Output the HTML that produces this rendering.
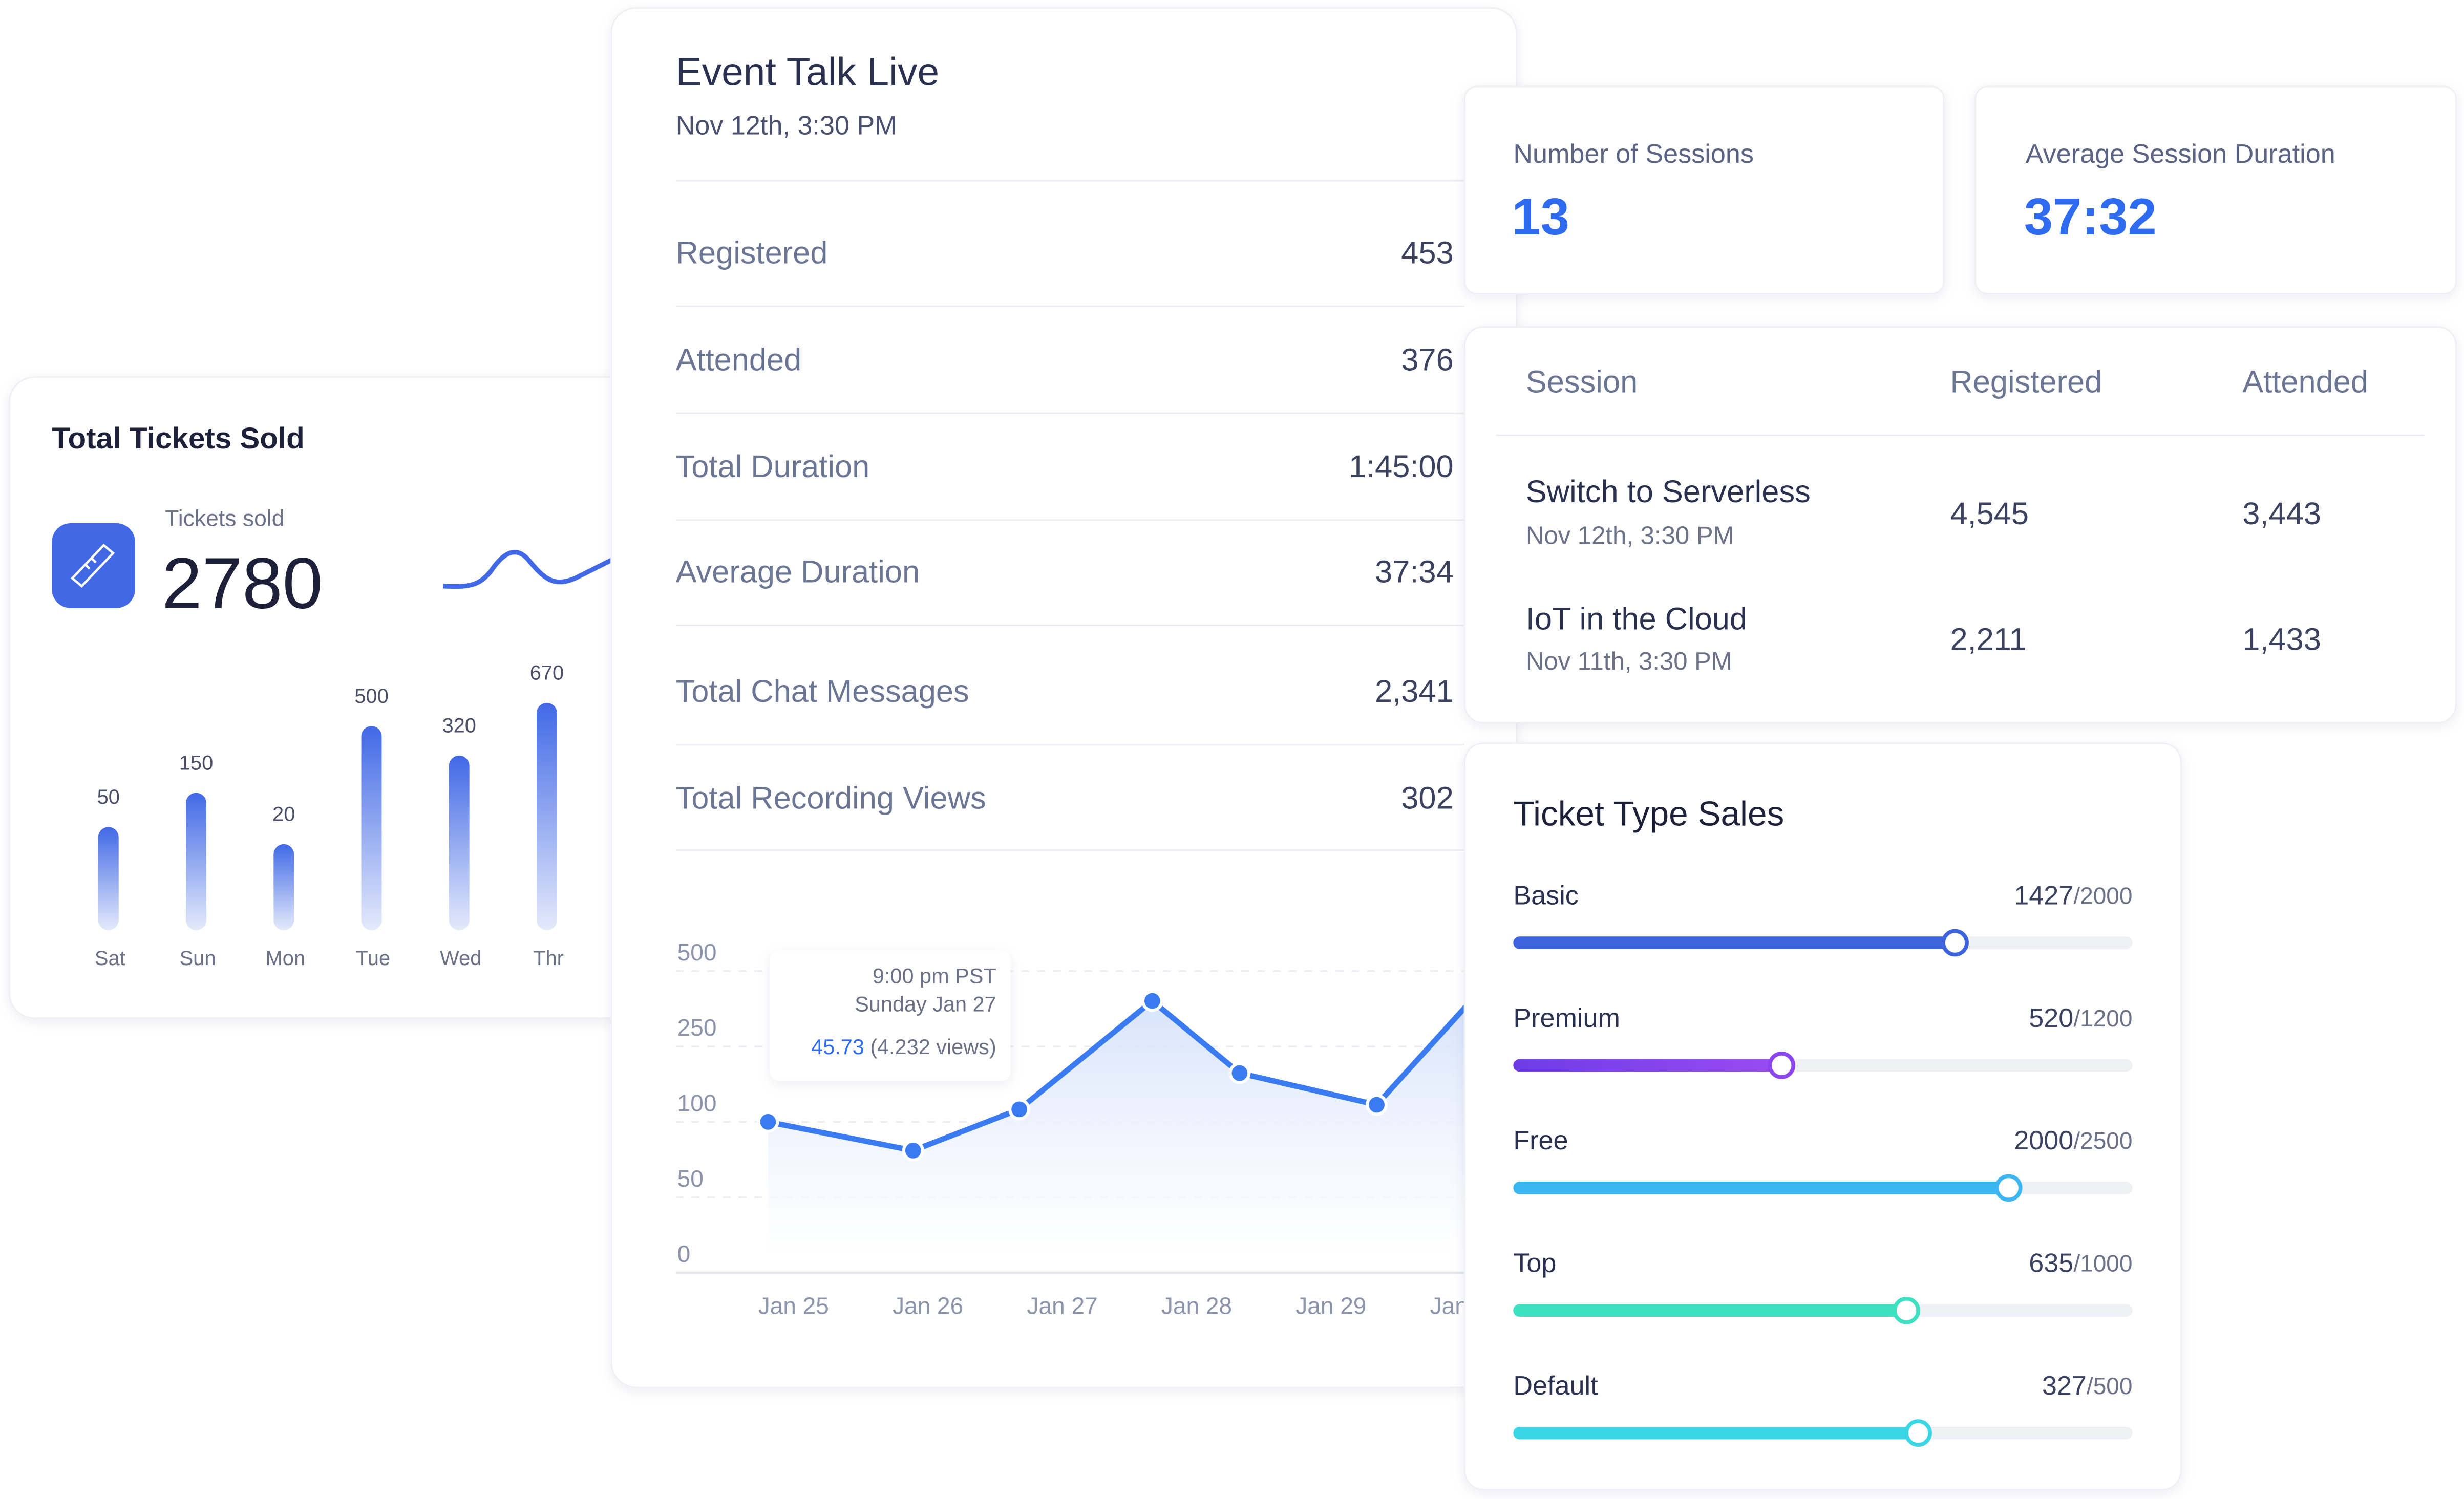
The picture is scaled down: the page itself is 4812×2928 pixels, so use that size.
<!DOCTYPE html>
<html><head><meta charset="utf-8">
<style>
html,body{margin:0;padding:0;background:#fff;width:4812px;height:2928px;overflow:hidden}
svg{display:block}
text{font-family:"Liberation Sans",sans-serif}
</style></head>
<body>
<svg id="root" width="4812" height="2928" viewBox="0 0 1568 954" preserveAspectRatio="none" xmlns="http://www.w3.org/2000/svg">
<defs>
<filter id="sh" x="-10%" y="-10%" width="120%" height="120%"><feDropShadow dx="0" dy="2" stdDeviation="4" flood-color="#1e2a55" flood-opacity="0.07"/></filter>
<linearGradient id="barg" x1="0" y1="0" x2="0" y2="1"><stop offset="0" stop-color="#4169e6"/><stop offset="1" stop-color="#e4eafb"/></linearGradient>
<linearGradient id="areag" x1="0" y1="0" x2="0" y2="1"><stop offset="0" stop-color="#d6e3fb"/><stop offset="1" stop-color="#ffffff" stop-opacity="0.6"/></linearGradient>
<linearGradient id="purg" x1="0" x2="1"><stop offset="0" stop-color="#6d3ce6"/><stop offset="1" stop-color="#9a4cf0"/></linearGradient>
<clipPath id="lineclip"><rect x="389" y="560" width="543" height="300"/></clipPath>
</defs>

<!-- Left card -->
<g>
<rect x="6" y="240" width="470" height="408" rx="16" fill="#fff" stroke="#eef0f4" filter="url(#sh)"/>
<text x="33" y="279" font-size="19" font-weight="bold" fill="#1c2038" dominant-baseline="central">Total Tickets Sold</text>
<rect x="33" y="333" width="53" height="54" rx="12" fill="#4169e6"/>
<g stroke="#fff" stroke-width="1.5" fill="none"><path d="M46 368 L66 347 L72 352 L52 373 Z"/><path d="M54 359 l3 3 M58 355 l3 3"/></g>
<text x="105" y="330" font-size="14.5" fill="#6b7186" dominant-baseline="central">Tickets sold</text>
<text x="103" y="371" font-size="46" fill="#1c2038" dominant-baseline="central">2780</text>
<path d="M282 373 C300 374 305 372 312 364 C320 352 328 347 336 356 C346 368 352 374 366 368 C374 364 382 360 390 356" stroke="#4169e6" stroke-width="3" fill="none"/>
<g id="bars"></g>
</g>

<!-- Middle card -->
<g>
<rect x="389" y="5" width="576" height="878" rx="16" fill="#fff" stroke="#eef0f4" filter="url(#sh)"/>
<text x="430" y="46" font-size="25" fill="#2a3150" dominant-baseline="central">Event Talk Live</text>
<text x="430" y="80" font-size="17" fill="#4a5170" dominant-baseline="central">Nov 12th, 3:30 PM</text>
<g id="stats"></g>
<g id="linechart" clip-path="url(#lineclip)"></g>
</g>

<!-- Session stat cards -->
<g>
<rect x="932" y="55" width="305" height="132" rx="8" fill="#fff" stroke="#eef0f4" filter="url(#sh)"/>
<text x="963" y="98" font-size="17" fill="#5a6384" dominant-baseline="central">Number of Sessions</text>
<text x="962" y="138" font-size="33" font-weight="bold" fill="#2f6bf0" dominant-baseline="central">13</text>
</g>
<g>
<rect x="1257" y="55" width="306" height="132" rx="8" fill="#fff" stroke="#eef0f4" filter="url(#sh)"/>
<text x="1289" y="98" font-size="17" fill="#5a6384" dominant-baseline="central">Average Session Duration</text>
<text x="1288" y="138" font-size="33" font-weight="bold" fill="#2f6bf0" dominant-baseline="central">37:32</text>
</g>

<!-- Sessions table -->
<g>
<rect x="932" y="208" width="631" height="252" rx="12" fill="#fff" stroke="#eef0f4" filter="url(#sh)"/>
<text x="971" y="243" font-size="20" fill="#6b7594" dominant-baseline="central">Session</text>
<text x="1241" y="243" font-size="20" fill="#6b7594" dominant-baseline="central">Registered</text>
<text x="1427" y="243" font-size="20" fill="#6b7594" dominant-baseline="central">Attended</text>
<line x1="952" y1="277" x2="1543" y2="277" stroke="#eceef3"/>
<g>
<text x="971" y="313" font-size="20" fill="#2a3150" dominant-baseline="central">Switch to Serverless</text>
<text x="971" y="341" font-size="16" fill="#6b7186" dominant-baseline="central">Nov 12th, 3:30 PM</text>
<text x="1241" y="327" font-size="20" fill="#3a4260" dominant-baseline="central">4,545</text>
<text x="1427" y="327" font-size="20" fill="#3a4260" dominant-baseline="central">3,443</text>
</g>
<g>
<text x="971" y="394" font-size="20" fill="#2a3150" dominant-baseline="central">IoT in the Cloud</text>
<text x="971" y="421" font-size="16" fill="#6b7186" dominant-baseline="central">Nov 11th, 3:30 PM</text>
<text x="1241" y="407" font-size="20" fill="#3a4260" dominant-baseline="central">2,211</text>
<text x="1427" y="407" font-size="20" fill="#3a4260" dominant-baseline="central">1,433</text>
</g>
</g>

<!-- Ticket type sales -->
<g>
<rect x="932" y="473" width="456" height="475" rx="12" fill="#fff" stroke="#eef0f4" filter="url(#sh)"/>
<text x="963" y="518" font-size="22" fill="#1c2038" dominant-baseline="central">Ticket Type Sales</text>
<g id="sliders"></g>
</g>
</svg>

<script>
const NS = "http://www.w3.org/2000/svg";
// ---- bar chart data ----
const barDays = ["Sat","Sun","Mon","Tue","Wed","Thr"];
const barValues = [50,150,20,500,320,670];
// ---- event stats ----
const statLabels = ["Registered","Attended","Total Duration","Average Duration","Total Chat Messages","Total Recording Views"];
const statValues = ["453","376","1:45:00","37:34","2,341","302"];
// ---- line chart data ----
const lineDates = [24.81,25.89,26.68,27.67,28.32,29.34,30.06];
const lineViews = [100,81,125,401,197,134,410];
const xTickLabels = ["Jan 25","Jan 26","Jan 27","Jan 28","Jan 29","Jan 30"];
const yTickValues = [0,50,100,250,500];
// ---- ticket sliders ----
const ticketNames = ["Basic","Premium","Free","Top","Default"];
const ticketSold = [1427,520,2000,635,327];
const ticketMax = [2000,1200,2500,1000,500];

function mk(tag, attrs, parent, txt){
  const e = document.createElementNS(NS, tag);
  for (const k in attrs) e.setAttribute(k, attrs[k]);
  if (txt !== undefined) e.textContent = txt;
  parent.appendChild(e);
  return e;
}

// bars
const barsG = document.getElementById('bars');
const barBase = 592;
function barX(i){ return 69 + i*55.8; }
function barH(v){ return 36 + 4.2*Math.sqrt(v); }
barValues.forEach((v,i)=>{
  const x = barX(i), h = barH(v);
  const r = mk('rect',{x:x-6.5,y:barBase-h,width:13,height:h,rx:6.5,fill:'url(#barg)'},barsG);
  
  
  const t = mk('text',{x:x,y:barBase-h-19,'font-size':13,fill:'#4a5068','text-anchor':'middle','dominant-baseline':'central'},barsG,String(v));
  
  
  const d = mk('text',{x:x+1,y:610,'font-size':13,fill:'#6b7186','text-anchor':'middle','dominant-baseline':'central'},barsG,barDays[i]);
  
  
});

// stats
const statsG = document.getElementById('stats');
const sepY = [115,195,263,331,398,474,541];
const rowY = [161,229,297,364,440,508];
sepY.forEach(y=>{
  const l = mk('line',{x1:430,y1:y,x2:932,y2:y,stroke:'#eceef3'},statsG);
  
  
});
statLabels.forEach((s,i)=>{
  const a = mk('text',{x:430,y:rowY[i],'font-size':20,fill:'#6b7594','dominant-baseline':'central'},statsG,s);
  
  
  const b = mk('text',{x:925,y:rowY[i],'font-size':20,fill:'#3a4260','text-anchor':'end','dominant-baseline':'central'},statsG,statValues[i]);
  
  
});

// line chart
const lc = document.getElementById('linechart');
const tickY = [810,762,714,666,618];
function xScale(d){ return 505 + (d-25)*85.5; }
function yScale(v){
  for (let i=0;i<yTickValues.length-1;i++){
    const a=yTickValues[i], b=yTickValues[i+1];
    if (v<=b || i===yTickValues.length-2){
      return tickY[i] + (v-a)/(b-a)*(tickY[i+1]-tickY[i]);
    }
  }
}
yTickValues.forEach((v,i)=>{
  const y = yScale(v);
  if (i>0){
    const g = mk('line',{x1:430,y1:y,x2:932,y2:y,stroke:'#e9ecf2','stroke-dasharray':'5 5'},lc);
    
    
  }
  const t = mk('text',{x:431,y:y-12,'font-size':15,fill:'#8c94ab','dominant-baseline':'central'},lc,String(v));
  
  
});
const base = mk('line',{x1:430,y1:810,x2:932,y2:810,stroke:'#e6e8ee','stroke-width':1.5},lc);


xTickLabels.forEach((s,i)=>{
  const t = mk('text',{x:xScale(25+i),y:831,'font-size':15,fill:'#8c94ab','text-anchor':'middle','dominant-baseline':'central'},lc,s);
  
  
});
const pts = lineDates.map((d,i)=>[xScale(d), yScale(lineViews[i])]);
let areaD = 'M'+pts[0][0]+' 800 ' + pts.map(p=>'L'+p[0]+' '+p[1]).join(' ') + ' L'+pts[pts.length-1][0]+' 800 Z';
const area = mk('path',{d:areaD,fill:'url(#areag)'},lc);


// tooltip
const tipG = mk('g',{},lc);


mk('rect',{x:490,y:605,width:153,height:83,rx:6,fill:'#fff',filter:'url(#sh)'},tipG);
mk('text',{x:634,y:621,'font-size':13.5,fill:'#6b7186','text-anchor':'end','dominant-baseline':'central'},tipG,'9:00 pm PST');
mk('text',{x:634,y:639,'font-size':13.5,fill:'#6b7186','text-anchor':'end','dominant-baseline':'central'},tipG,'Sunday Jan 27');
const tt = mk('text',{x:634,y:666,'font-size':13.5,fill:'#6b7186','text-anchor':'end','dominant-baseline':'central'},tipG);
mk('tspan',{fill:'#2f6bf0'},tt,'45.73');
mk('tspan',{},tt,' (4.232 views)');
const line = mk('polyline',{points:pts.map(p=>p.join(',')).join(' '),fill:'none',stroke:'#3a7bf2','stroke-width':3.5,'stroke-linejoin':'round'},lc);


pts.forEach(p=>{
  const c = mk('circle',{cx:p[0],cy:p[1],r:6,fill:'#3a7bf2',stroke:'#fff','stroke-width':2},lc);
  
  
});

// sliders
const sG = document.getElementById('sliders');
const colors = ['#3d63dd','url(#purg)','#3cb6f2','#3ee0c2','#3bd6e6'];
const knob = ['#3d63dd','#8a45ee','#3cb6f2','#3ee0c2','#3bd6e6'];
const tx0 = 963, tw = 394;
ticketNames.forEach((n,i)=>{
  const ly = 570 + i*78, ty = 600 + i*78;
  const g = mk('g',{},sG);
  
  
  mk('text',{x:963,y:ly,'font-size':17,fill:'#2a3150','dominant-baseline':'central'},g,n);
  const vt = mk('text',{x:1357,y:ly,'font-size':17,fill:'#3a4260','text-anchor':'end','dominant-baseline':'central'},g);
  mk('tspan',{},vt,String(ticketSold[i]));
  mk('tspan',{'font-size':15,fill:'#6b7186'},vt,'/'+ticketMax[i]);
  mk('rect',{x:tx0,y:ty-4,width:tw,height:8,rx:4,fill:'#eef0f4'},g);
  const fx = tx0 + tw*Math.min(1,ticketSold[i]/ticketMax[i]);
  mk('rect',{x:tx0,y:ty-4,width:fx-tx0,height:8,rx:4,fill:colors[i]},g);
  mk('circle',{cx:fx,cy:ty,r:7.5,fill:'#fff',stroke:knob[i],'stroke-width':2.5},g);
});
</script>
</body></html>
